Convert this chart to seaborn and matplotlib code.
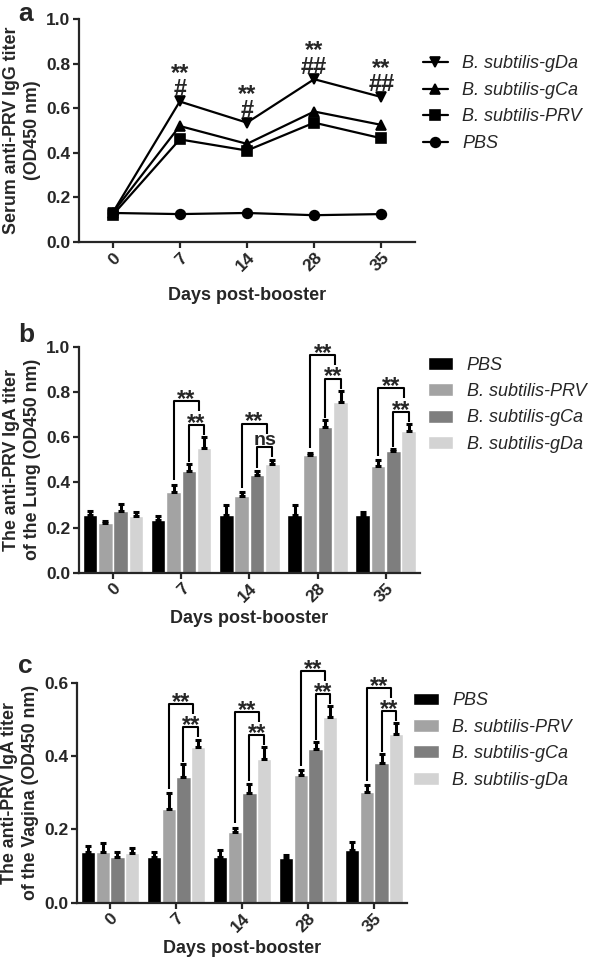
import pandas as pd
import matplotlib.pyplot as plt
import seaborn as sns

days = ['0', '7', '14', '28', '35']

# panel a - serum IgG
igg_groups = ['B. subtilis-gDa', 'B. subtilis-gCa', 'B. subtilis-PRV', 'PBS']
igg_gDa = [0.13, 0.63, 0.535, 0.73, 0.65]
igg_gCa = [0.13, 0.52, 0.44, 0.585, 0.525]
igg_PRV = [0.12, 0.46, 0.41, 0.535, 0.465]
igg_PBS = [0.13, 0.125, 0.13, 0.12, 0.125]
igg_stars = ['', '**', '**', '**', '**']
igg_hash = ['', '#', '#', '##', '##']

# panels b and c - IgA
iga_groups = ['PBS', 'B. subtilis-PRV', 'B. subtilis-gCa', 'B. subtilis-gDa']
iga_colors = ['#000000', '#a3a3a3', '#7e7e7e', '#d3d3d3']

lung_PBS = [0.255, 0.235, 0.255, 0.255, 0.255]
lung_PBS_err = [0.02, 0.015, 0.045, 0.045, 0.012]
lung_PRV = [0.22, 0.355, 0.34, 0.52, 0.47]
lung_PRV_err = [0.01, 0.035, 0.015, 0.01, 0.027]
lung_gCa = [0.275, 0.45, 0.432, 0.643, 0.54]
lung_gCa_err = [0.027, 0.03, 0.02, 0.033, 0.007]
lung_gDa = [0.25, 0.553, 0.479, 0.754, 0.628]
lung_gDa_err = [0.02, 0.047, 0.021, 0.05, 0.029]
lung_outer = ['', '**', '**', '**', '**']
lung_inner = ['', '**', 'ns', '**', '**']

vag_PBS = [0.137, 0.125, 0.125, 0.121, 0.144]
vag_PBS_err = [0.018, 0.014, 0.019, 0.009, 0.022]
vag_PRV = [0.137, 0.255, 0.193, 0.348, 0.301]
vag_PRV_err = [0.025, 0.043, 0.012, 0.014, 0.02]
vag_gCa = [0.125, 0.342, 0.298, 0.418, 0.382]
vag_gCa_err = [0.012, 0.036, 0.027, 0.021, 0.023]
vag_gDa = [0.135, 0.425, 0.391, 0.507, 0.46]
vag_gDa_err = [0.013, 0.02, 0.033, 0.029, 0.029]
vag_outer = ['', '**', '**', '**', '**']
vag_inner = ['', '**', '**', '**', '**']

sns.set_style('ticks')
plt.rcParams['font.family'] = ['Liberation Sans', 'DejaVu Sans']
plt.rcParams['font.weight'] = 'bold'
plt.rcParams['axes.labelweight'] = 'bold'
plt.rcParams['axes.linewidth'] = 1.6

fig = plt.figure(figsize=(5.98, 9.59), dpi=100)
ax_a = fig.add_axes([0.132, 0.7477, 0.562, 0.2325])
ax_b = fig.add_axes([0.132, 0.4028, 0.570, 0.2357])
ax_c = fig.add_axes([0.1288, 0.0587, 0.552, 0.2294])


def style_axis(ax, ylabel, ymax, step, labelpad):
    ax.set_ylim(0, ymax)
    ax.set_yticks([i * step for i in range(int(round(ymax / step)) + 1)])
    ax.yaxis.set_major_formatter(plt.FormatStrFormatter('%.1f'))
    ax.set_xlim(-0.5, 4.5)
    ax.set_ylabel(ylabel, fontsize=12.8, linespacing=1.3, labelpad=4)
    ax.set_xlabel('Days post-booster', fontsize=13, labelpad=labelpad)
    ax.tick_params(labelsize=12.5, width=1.6, length=4, pad=2, direction='out')
    for lab in ax.get_xticklabels():
        lab.set_rotation(45)
        lab.set_ha('right')
        lab.set_va('top')
        lab.set_rotation_mode('anchor')
    sns.despine(ax=ax)


leg_font = {'style': 'italic', 'weight': 'normal', 'size': 13}

# ---- panel a ----
igg = pd.DataFrame({'day': days * 4,
                    'group': [g for g in igg_groups for _ in days],
                    'od': igg_gDa + igg_gCa + igg_PRV + igg_PBS})
sns.pointplot(data=igg, x='day', y='od', hue='group', order=days,
              hue_order=igg_groups, palette={g: 'black' for g in igg_groups},
              markers=['v', '^', 's', 'o'], linestyles='-', errorbar=None,
              dodge=False, markersize=7, linewidth=1.6, ax=ax_a)
style_axis(ax_a, 'Serum anti-PRV IgG titer\n(OD450 nm)', 1.0, 0.2, 9)
sns.move_legend(ax_a, 'upper left', bbox_to_anchor=(0.976, 0.91),
                frameon=False, title=None, prop=leg_font, handlelength=1.35,
                labelspacing=0.53, handletextpad=0.8)
for i, d in enumerate(days):
    if igg_hash[i]:
        ax_a.annotate(igg_stars[i] + '\n' + igg_hash[i], (i, igg_gDa[i]),
                      xytext=(0, 4), textcoords='offset points', ha='center',
                      va='baseline', fontsize=17, linespacing=0.62)


# ---- panels b and c ----
def bar_panel(ax, vals, errs, outer, inner, ylabel, ymax, labelpad, anchor):
    df = pd.DataFrame({'day': days * 4,
                       'group': [g for g in iga_groups for _ in days],
                       'od': sum(vals, [])})
    sns.barplot(data=df, x='day', y='od', hue='group', order=days,
                hue_order=iga_groups, palette=iga_colors, width=0.9, gap=0.05,
                errorbar=None, ax=ax)
    bars = list(ax.containers)
    xs = []
    for k, cont in enumerate(bars):
        cx = [p.get_x() + p.get_width() / 2 for p in cont.patches]
        xs.append(cx)
        ax.errorbar(cx, vals[k], yerr=[[0] * len(days), errs[k]], fmt='none',
                    ecolor='black', elinewidth=2.2, capsize=2, capthick=2.2,
                    zorder=3)
    bw = bars[0].patches[0].get_width()
    tops = [[v + e for v, e in zip(vals[k], errs[k])] for k in range(4)]
    for j in range(len(days)):
        if not outer[j]:
            continue
        yi = max(tops[2][j], tops[3][j]) + 0.055 * ymax
        yo = yi + 0.105 * ymax
        leg = 0.045 * ymax
        # inner bracket gCa -> gDa
        x1, x2 = xs[2][j], xs[3][j]
        ax.plot([x1, x1, x2, x2], [tops[2][j] + 0.01 * ymax, yi, yi, yi - leg],
                color='black', lw=1.5, solid_capstyle='butt', clip_on=False)
        if inner[j] == 'ns':
            ax.annotate('ns', ((x1 + x2) / 2, yi), xytext=(0, 1.5),
                        textcoords='offset points', ha='center',
                        va='baseline', fontsize=14)
        else:
            ax.annotate(inner[j], ((x1 + x2) / 2, yi), xytext=(0, -3.5),
                        textcoords='offset points', ha='center',
                        va='baseline', fontsize=17)
        # outer bracket PRV -> gDa
        x1, x2 = xs[1][j], xs[3][j] - 0.35 * bw
        ax.plot([x1, x1, x2, x2], [tops[1][j] + 0.02 * ymax, yo, yo, yo - leg],
                color='black', lw=1.5, solid_capstyle='butt', clip_on=False)
        ax.annotate(outer[j], ((x1 + x2) / 2, yo), xytext=(0, -3.5),
                    textcoords='offset points', ha='center', va='baseline',
                    fontsize=17, annotation_clip=False)
    style_axis(ax, ylabel, ymax, 0.2, labelpad)
    sns.move_legend(ax, 'upper left', bbox_to_anchor=anchor, frameon=False,
                    title=None, prop=leg_font, handlelength=1.42,
                    handleheight=0.72, labelspacing=0.52, handletextpad=0.75)


bar_panel(ax_b, [lung_PBS, lung_PRV, lung_gCa, lung_gDa],
          [lung_PBS_err, lung_PRV_err, lung_gCa_err, lung_gDa_err],
          lung_outer, lung_inner,
          'The anti-PRV IgA titer\nof the Lung (OD450 nm)', 1.0, 3,
          (0.975, 1.028))
bar_panel(ax_c, [vag_PBS, vag_PRV, vag_gCa, vag_gDa],
          [vag_PBS_err, vag_PRV_err, vag_gCa_err, vag_gDa_err],
          vag_outer, vag_inner,
          'The anti-PRV IgA titer\nof the Vagina (OD450 nm)', 0.6, 3,
          (0.969, 1.03))

fig.text(0.03, 0.998, 'a', fontsize=19, va='top')
fig.text(0.03, 0.663, 'b', fontsize=19, va='top')
fig.text(0.03, 0.318, 'c', fontsize=19, va='top')

fig.savefig('out.png', dpi=100)
